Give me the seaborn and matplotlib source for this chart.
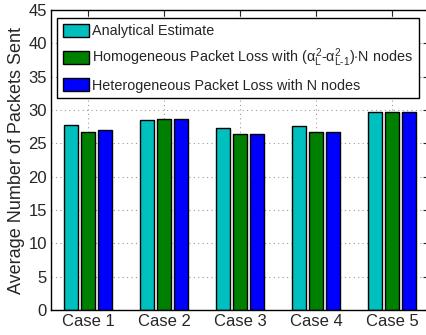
import numpy as np
import pandas as pd
import matplotlib
matplotlib.use("Agg")
import matplotlib.pyplot as plt
import seaborn as sns

# --- data ---
cases = ["Case 1", "Case 2", "Case 3", "Case 4", "Case 5"]
analytical = [27.75, 28.55, 27.25, 27.55, 29.65]
homogeneous = [26.7, 28.7, 26.35, 26.65, 29.65]
heterogeneous = [26.95, 28.7, 26.35, 26.65, 29.65]

series_names = [
    "Analytical Estimate",
    r"Homogeneous Packet Loss with ($\alpha_L^2$-$\alpha_{L\text{-}1}^2$)$\cdot$N nodes",
    "Heterogeneous Packet Loss with N nodes",
]
colors = ["#00BFBF", "#008000", "#0000FF"]

df = pd.DataFrame({
    "case": cases * 3,
    "value": analytical + homogeneous + heterogeneous,
    "series": [series_names[0]] * 5 + [series_names[1]] * 5 + [series_names[2]] * 5,
})

# --- style ---
sns.set_style("white")
plt.rcParams["font.family"] = ["Liberation Sans", "DejaVu Sans"]
plt.rcParams["mathtext.fontset"] = "custom"
plt.rcParams["mathtext.rm"] = "Liberation Sans"
plt.rcParams["mathtext.it"] = "Liberation Sans"
plt.rcParams["mathtext.sf"] = "Liberation Sans"

fig = plt.figure(figsize=(4.27, 3.35), dpi=100)
# the right edge of the axes box sits just past the picture's edge
ax = fig.add_axes([51 / 427, 1 - 310 / 335, (429 - 51) / 427, 300 / 335])

sns.barplot(data=df, x="case", y="value", hue="series", hue_order=series_names,
            palette=colors, width=0.67, gap=0.22, edgecolor="black",
            linewidth=1.0, saturation=1, ax=ax, legend=True)

ax.set_xlim(-0.487, 4.487)
ax.set_ylim(0, 45)
ax.set_yticks(np.arange(0, 46, 5))
ax.set_xlabel("")
ax.set_ylabel("Average Number of Packets Sent", fontsize=13, labelpad=2)
ax.tick_params(axis="both", direction="in", top=True, right=True, length=4,
               labelsize=12, pad=3)
ax.grid(True, linestyle=(0, (1, 3)), color="#999999", linewidth=0.8)
ax.set_axisbelow(True)
for s in ax.spines.values():
    s.set_color("black")
    s.set_linewidth(1.0)

handles, labels = ax.get_legend_handles_labels()
leg = ax.legend(handles, labels, loc="upper left",
                bbox_to_anchor=(57 / 427, 1 - 18 / 335),
                bbox_transform=fig.transFigure, borderaxespad=0,
                fontsize=10.4, fancybox=False, framealpha=1, edgecolor="black",
                handlelength=1.8, handleheight=1.0, labelspacing=0.6,
                handletextpad=0.25, borderpad=0.4)
leg.get_frame().set_linewidth(1.0)

fig.savefig("out.png", dpi=100)
